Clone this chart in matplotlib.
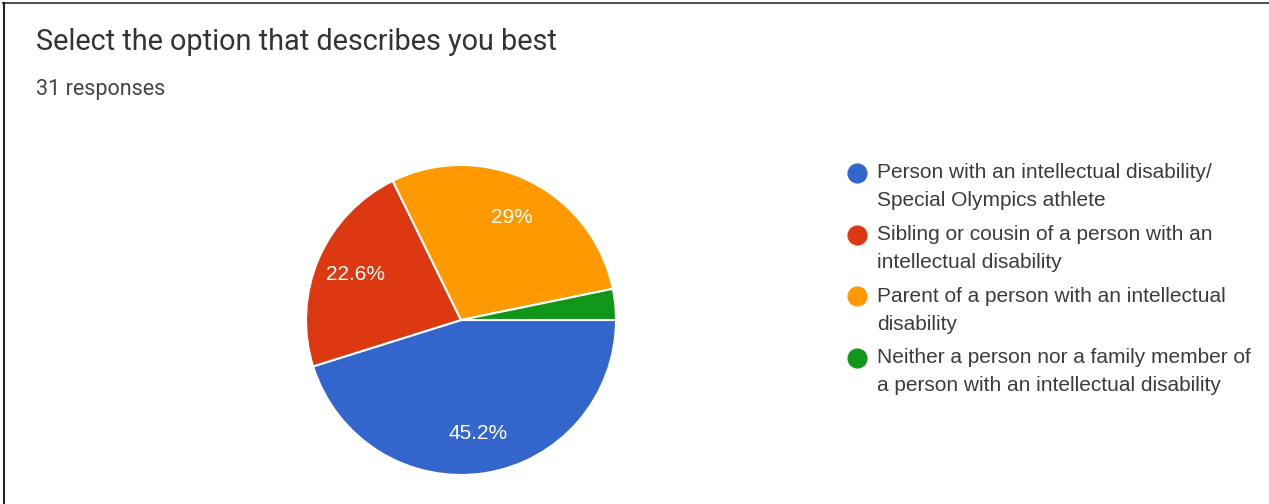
import matplotlib
matplotlib.use('Agg')
from matplotlib import pyplot as plt
from matplotlib.lines import Line2D

title = 'Select the option that describes you best'
subtitle = '31 responses'

categories = [
    'Person with an intellectual disability/\nSpecial Olympics athlete',
    'Sibling or cousin of a person with an\nintellectual disability',
    'Parent of a person with an intellectual\ndisability',
    'Neither a person nor a family member of\na person with an intellectual disability',
]
counts = [14, 7, 9, 1]
colors = ['#3366CC', '#DC3912', '#FF9900', '#109618']

W, H = 1269, 504
fig = plt.figure(figsize=(W / 100, H / 100), dpi=100)
fig.patch.set_facecolor('white')

# frame lines at top and left, like the screenshot crop
fig.add_artist(Line2D([3 / W, 1], [1 - 3 / H, 1 - 3 / H], color='#555555', lw=1.5))
fig.add_artist(Line2D([4 / W, 4 / W], [0, 1 - 3 / H], color='#222222', lw=1.5))

fig.text(36 / W, 1 - 42 / H, title, fontsize=20.8, family='Roboto', color='#333333', va='center')
fig.text(36 / W, 1 - 89 / H, subtitle, fontsize=15.5, family='Roboto', color='#444444', va='center')

cx, cy, r = 461, 320, 155
ax = fig.add_axes([(cx - r) / W, (H - cy - r) / H, 2 * r / W, 2 * r / H])


def pct_label(p):
    s = f'{p:.1f}'
    if s.endswith('.0'):
        s = s[:-2]
    return s + '%' if p > 5 else ''


wedges, texts, autotexts = ax.pie(
    counts, colors=colors, startangle=0, counterclock=False,
    autopct=pct_label, pctdistance=0.74,
    wedgeprops=dict(edgecolor='white', linewidth=1.5),
    textprops=dict(color='white', fontsize=15, family='Liberation Sans'))
ax.set_xlim(-1, 1)
ax.set_ylim(-1, 1)

# legend
lx, ly0, step, line_h = 857, 173, 61.5, 28
for i, (label, color) in enumerate(zip(categories, colors)):
    y = ly0 + i * step
    fig.add_artist(Line2D([lx / W], [1 - y / H], marker='o', markersize=13.5,
                          color=color, linestyle='none'))
    for j, line in enumerate(label.split('\n')):
        fig.text(877 / W, 1 - (y + j * line_h) / H, line, fontsize=15,
                 family='Liberation Sans', color='#3c3c3c', va='center')

fig.savefig('out.png', dpi=100)
